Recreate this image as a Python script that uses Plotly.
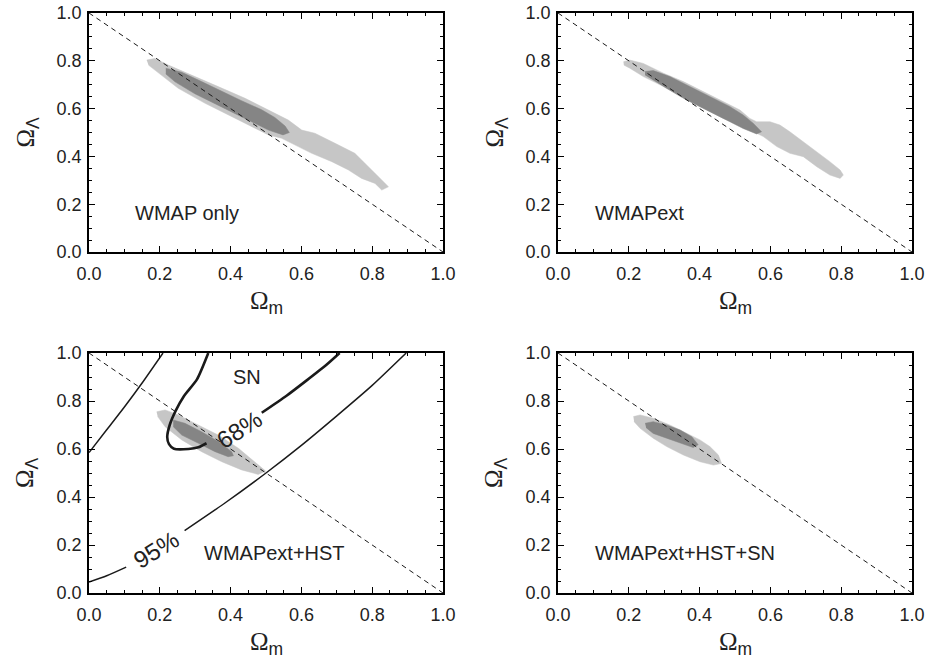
import plotly.graph_objects as go

# ---------------- data ----------------
tick_vals = [0.0, 0.2, 0.4, 0.6, 0.8, 1.0]
tick_text = ["0.0", "0.2", "0.4", "0.6", "0.8", "1.0"]

# flat universe line  Omega_m + Omega_Lambda = 1
flat_x = [0.0, 1.0]
flat_y = [1.0, 0.0]

# Panel 1: WMAP only
wmap_95_x = [0.163, 0.186, 0.224, 0.290, 0.365, 0.441, 0.516, 0.563, 0.601, 0.638, 0.695, 0.751, 0.808, 0.831, 0.846,
             0.827, 0.808, 0.770, 0.733, 0.686, 0.629, 0.591, 0.544, 0.507, 0.450, 0.394, 0.328, 0.252, 0.196, 0.168]
wmap_95_y = [0.803, 0.810, 0.782, 0.741, 0.692, 0.643, 0.587, 0.552, 0.510, 0.497, 0.455, 0.413, 0.329, 0.294, 0.273,
             0.259, 0.287, 0.308, 0.343, 0.378, 0.413, 0.441, 0.476, 0.490, 0.531, 0.573, 0.622, 0.685, 0.748, 0.782]
wmap_68_x = [0.217, 0.262, 0.318, 0.375, 0.431, 0.488, 0.525, 0.554, 0.566,
             0.548, 0.507, 0.469, 0.412, 0.356, 0.299, 0.243, 0.217]
wmap_68_y = [0.769, 0.752, 0.713, 0.672, 0.633, 0.595, 0.563, 0.527, 0.500,
             0.490, 0.510, 0.538, 0.580, 0.622, 0.662, 0.712, 0.745]

# Panel 2: WMAPext
ext_95_x = [0.185, 0.203, 0.241, 0.298, 0.354, 0.410, 0.467, 0.514, 0.542, 0.561, 0.599, 0.627, 0.655, 0.693, 0.731,
            0.768, 0.797, 0.806, 0.797, 0.768, 0.731, 0.693, 0.655, 0.618, 0.580, 0.552, 0.514, 0.467, 0.410, 0.354,
            0.298, 0.241, 0.203, 0.186]
ext_95_y = [0.796, 0.803, 0.789, 0.748, 0.713, 0.671, 0.629, 0.594, 0.559, 0.545, 0.545, 0.531, 0.503, 0.462, 0.420,
            0.378, 0.343, 0.322, 0.308, 0.322, 0.357, 0.399, 0.413, 0.441, 0.483, 0.503, 0.531, 0.559, 0.601, 0.643,
            0.692, 0.734, 0.769, 0.782]
ext_68_x = [0.246, 0.269, 0.316, 0.373, 0.429, 0.486, 0.523, 0.552, 0.575,
            0.561, 0.523, 0.477, 0.420, 0.364, 0.307, 0.260, 0.246]
ext_68_y = [0.755, 0.759, 0.734, 0.692, 0.650, 0.608, 0.573, 0.538, 0.503,
            0.494, 0.517, 0.552, 0.594, 0.636, 0.685, 0.727, 0.741]

# Panel 3: WMAPext+HST
hst_95_x = [0.191, 0.215, 0.252, 0.309, 0.365, 0.422, 0.469, 0.499,
            0.478, 0.431, 0.375, 0.318, 0.262, 0.215, 0.194]
hst_95_y = [0.755, 0.763, 0.742, 0.700, 0.658, 0.603, 0.547, 0.508,
            0.494, 0.513, 0.547, 0.589, 0.638, 0.693, 0.735]
hst_68_x = [0.238, 0.271, 0.318, 0.365, 0.403, 0.408, 0.393, 0.356, 0.309, 0.262, 0.238]
hst_68_y = [0.721, 0.707, 0.672, 0.631, 0.589, 0.572, 0.568, 0.589, 0.624, 0.658, 0.693]

# SN contours (panel 3)
sn95_left_x = [0.0, 0.05, 0.10, 0.15, 0.209]
sn95_left_y = [0.585, 0.68, 0.775, 0.875, 1.0]
sn95_low_x = [0.0, 0.05, 0.105]
sn95_low_y = [0.046, 0.072, 0.108]
sn95_high_x = [0.270, 0.385, 0.500, 0.600, 0.700, 0.800, 0.896]
sn95_high_y = [0.260, 0.376, 0.500, 0.615, 0.738, 0.865, 1.0]
sn68_left_x = [0.337, 0.305, 0.268, 0.245, 0.228, 0.221, 0.226, 0.240, 0.281, 0.309, 0.332]
sn68_left_y = [1.0, 0.890, 0.820, 0.760, 0.700, 0.650, 0.620, 0.601, 0.600, 0.607, 0.624]
sn68_right_x = [0.488, 0.558, 0.614, 0.670, 0.708]
sn68_right_y = [0.751, 0.822, 0.885, 0.950, 1.0]

# Panel 4: WMAPext+HST+SN
all_95_x = [0.213, 0.232, 0.269, 0.316, 0.364, 0.401, 0.429, 0.453, 0.462,
            0.439, 0.401, 0.354, 0.307, 0.269, 0.232, 0.215]
all_95_y = [0.735, 0.742, 0.728, 0.700, 0.665, 0.638, 0.610, 0.575, 0.540,
            0.533, 0.547, 0.575, 0.610, 0.645, 0.686, 0.714]
all_68_x = [0.246, 0.269, 0.307, 0.345, 0.378, 0.396, 0.382, 0.345, 0.307, 0.269, 0.249]
all_68_y = [0.707, 0.714, 0.700, 0.679, 0.651, 0.618, 0.606, 0.624, 0.645, 0.665, 0.689]

panel_labels = ["WMAP only", "WMAPext", "WMAPext+HST", "WMAPext+HST+SN"]

# ---------------- figure ----------------
LIGHT = "#c6c6c6"
DARK = "#858585"
INK = "#1a1a1a"
SANS = "Liberation Sans, Arial, sans-serif"
SERIF = "Liberation Serif, Times New Roman, serif"

fig = go.Figure()

panels = [
    (wmap_95_x, wmap_95_y, wmap_68_x, wmap_68_y),
    (ext_95_x, ext_95_y, ext_68_x, ext_68_y),
    (hst_95_x, hst_95_y, hst_68_x, hst_68_y),
    (all_95_x, all_95_y, all_68_x, all_68_y),
]

for i, (x95, y95, x68, y68) in enumerate(panels):
    ax = "" if i == 0 else str(i + 1)
    xr, yr = "x" + ax, "y" + ax
    fig.add_trace(go.Scatter(x=x95, y=y95, fill="toself", fillcolor=LIGHT, mode="lines",
                             line=dict(color=LIGHT, width=0.5), xaxis=xr, yaxis=yr,
                             showlegend=False, hoverinfo="skip"))
    fig.add_trace(go.Scatter(x=x68, y=y68, fill="toself", fillcolor=DARK, mode="lines",
                             line=dict(color=DARK, width=0.5), xaxis=xr, yaxis=yr,
                             showlegend=False, hoverinfo="skip"))
    fig.add_trace(go.Scatter(x=flat_x, y=flat_y, mode="lines",
                             line=dict(color=INK, width=1, dash="5px,4px"), xaxis=xr, yaxis=yr,
                             showlegend=False, hoverinfo="skip"))

# SN contour lines on panel 3
for xs, ys, w in [(sn95_left_x, sn95_left_y, 1.5), (sn95_low_x, sn95_low_y, 1.5),
                  (sn95_high_x, sn95_high_y, 1.5), (sn68_left_x, sn68_left_y, 2.6),
                  (sn68_right_x, sn68_right_y, 2.6)]:
    fig.add_trace(go.Scatter(x=xs, y=ys, mode="lines", line=dict(color=INK, width=w, shape="spline", smoothing=0.6),
                             xaxis="x3", yaxis="y3", showlegend=False, hoverinfo="skip"))

xdoms = [[89 / 930, 443 / 930], [558 / 930, 912 / 930]]
ydoms = [[1 - 252 / 664, 1 - 13 / 664], [1 - 593 / 664, 1 - 353 / 664]]

tickfont = dict(family=SANS, size=18, color="#222222")

def axis_common():
    return dict(range=[0, 1], tickvals=tick_vals, ticktext=tick_text, ticks="inside", ticklen=6,
                tickwidth=1, tickcolor="black", showline=True, linecolor="black", linewidth=1.5,
                mirror="allticks", showgrid=False, zeroline=False, tickfont=tickfont, automargin=False,
                minor=dict(ticks="inside", ticklen=3, dtick=0.05, tick0=0, tickcolor="black",
                           tickwidth=1, showgrid=False),
                fixedrange=True)

layout = dict(width=930, height=664, margin=dict(l=0, r=0, t=0, b=0, autoexpand=False),
              paper_bgcolor="white", plot_bgcolor="white", showlegend=False)

for i in range(4):
    ax = "" if i == 0 else str(i + 1)
    col, row = i % 2, i // 2
    xa = axis_common()
    xa.update(domain=xdoms[col], anchor="y" + ax, ticklabelstandoff=5)
    ya = axis_common()
    ya.update(domain=ydoms[row], anchor="x" + ax, ticklabelstandoff=2)
    layout["xaxis" + ax] = xa
    layout["yaxis" + ax] = ya

fig.update_layout(**layout)

ann = []
label_pos = [(0.125, 0.163), (0.100, 0.164), (0.318, 0.168), (0.100, 0.168)]
for i in range(4):
    ax = "" if i == 0 else str(i + 1)
    ann.append(dict(text=panel_labels[i], x=label_pos[i][0], y=label_pos[i][1], xref="x" + ax, yref="y" + ax,
                    xanchor="left", yanchor="middle", showarrow=False,
                    font=dict(family=SANS, size=20, color="#222222")))
    ann.append(dict(text='Ω<sub><span style="font-family:Liberation Sans, Arial, sans-serif">m</span></sub>',
                    x=0.5, y=0, xref="x" + ax + " domain", yref="y" + ax + " domain",
                    xanchor="center", yanchor="middle", yshift=-50, showarrow=False,
                    font=dict(family=SERIF, size=25, color="#222222")))
    ann.append(dict(text='Ω<sub><span style="font-family:Liberation Sans, Arial, sans-serif">Λ</span></sub>',
                    x=0, y=0.5, xref="x" + ax + " domain", yref="y" + ax + " domain",
                    xanchor="center", yanchor="middle", xshift=-62, textangle=-90, showarrow=False,
                    font=dict(family=SERIF, size=25, color="#222222")))

ann.append(dict(text="SN", x=0.445, y=0.898, xref="x3", yref="y3", showarrow=False,
                font=dict(family=SANS, size=20, color="#222222")))
ann.append(dict(text="68%", x=0.424, y=0.683, xref="x3", yref="y3", showarrow=False, textangle=-33,
                font=dict(family=SANS, size=24, color="#222222")))
ann.append(dict(text="95%", x=0.190, y=0.182, xref="x3", yref="y3", showarrow=False, textangle=-32,
                font=dict(family=SANS, size=24, color="#222222")))

fig.update_layout(annotations=ann)
fig.write_html("out.html", config={"displayModeBar": False},
               post_script="document.body.style.margin='0px';")
